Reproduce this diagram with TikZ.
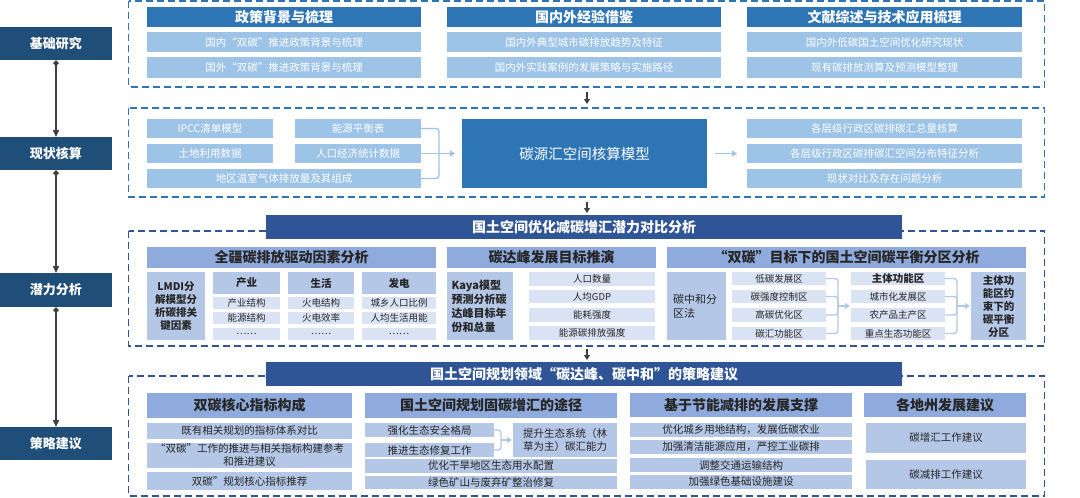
\documentclass[tikz,border=0pt]{standalone}
\usepackage{fontspec}
\setmainfont{Noto Sans CJK SC}
\newfontfamily\fwfont[CharacterWidth=Full]{Noto Sans CJK SC}
\newcommand{\qL}{{\fwfont “}}
\newcommand{\qR}{{\fwfont ”}}
\usetikzlibrary{arrows.meta}
\definecolor{navy}{HTML}{1F4E79}
\definecolor{blueA}{HTML}{2E75B6}
\definecolor{blueL}{HTML}{9DC3E6}
\definecolor{blueD}{HTML}{2F5597}
\definecolor{blueH}{HTML}{8FAADC}
\definecolor{blueM}{HTML}{B4C7E7}
\definecolor{blueP}{HTML}{DAE3F3}
\definecolor{txt}{HTML}{262626}
\definecolor{arr}{HTML}{404040}
\newcommand{\bx}[7]{\node[#6, minimum width={(#4-#2)*1pt}, minimum height={(#5-#3)*1pt}] (#1) at ({(#2+#4)/2},{(#3+#5)/2}) {#7};}
\tikzset{
 base/.style={inner sep=0pt, outer sep=0pt, align=center},
 lab/.style={base, fill=navy, text=white, font=\fontsize{13}{15}\selectfont\bfseries},
 hA/.style={base, fill=blueA, text=white, font=\fontsize{14}{16}\selectfont\bfseries},
 rA/.style={base, fill=blueL, text=white, font=\fontsize{10.5}{12}\selectfont},
 cen/.style={base, fill=blueA, text=white, font=\fontsize{14.5}{16}\selectfont},
 band/.style={base, fill=blueD, text=white, font=\fontsize{14}{16}\selectfont\bfseries},
 hB/.style={base, fill=blueH, text=txt, font=\fontsize{14}{16}\selectfont\bfseries},
 mB/.style={base, fill=blueM, text=txt, font=\fontsize{10.5}{13}\selectfont},
 mBb/.style={base, fill=blueM, text=txt, font=\fontsize{10.5}{13}\selectfont\bfseries},
 pC/.style={base, fill=blueP, text=txt, font=\fontsize{9.5}{11}\selectfont},
 pCb/.style={base, fill=blueP, text=txt, font=\fontsize{10.5}{12}\selectfont\bfseries},
 dashA/.style={draw=blueA, line width=1.4pt, dash pattern=on 7pt off 4pt},
 dashB/.style={draw=blueD, line width=1.4pt, dash pattern=on 7pt off 4pt},
 colarr/.style={draw=arr, line width=2pt, {Diamond[length=6pt,width=6pt]}-{Triangle[length=7pt,width=6pt]}},
 secarr/.style={draw=arr, line width=1.5pt, -{Triangle[length=5pt,width=6pt]}},
 brkA/.style={draw=blueL, line width=1.3pt, rounded corners=3pt},
 brkAarr/.style={draw=blueL, line width=1.3pt, -{Triangle[length=5pt,width=6pt]}},
 brkB/.style={draw=blueM, line width=1.3pt, rounded corners=3pt},
 brkBarr/.style={draw=blueM, line width=1.3pt, -{Triangle[length=5pt,width=6pt]}},
}
\begin{document}
\begin{tikzpicture}[x=1pt,y=-1pt]
\useasboundingbox (0,0) rectangle (1080,498);
% ---------- left column
\bx{L1}{0}{27}{112}{60}{lab}{基础研究}
\bx{L2}{0}{137}{112}{170}{lab}{现状核算}
\bx{L3}{0}{273}{112}{307}{lab}{潜力分析}
\bx{L4}{0}{427}{112}{460}{lab}{策略建议}
\draw[colarr] (L1.south) -- (L2.north);
\draw[colarr] (L2.south) -- (L3.north);
\draw[colarr] (L3.south) -- (L4.north);
% ---------- section 1
\draw[dashA] (128.5,1) rectangle (1044.5,87);
\bx{h11}{147}{7}{421}{27}{hA}{政策背景与梳理}
\bx{h12}{447}{7}{721}{27}{hA}{国内外经验借鉴}
\bx{h13}{747}{7}{1022}{27}{hA}{文献综述与技术应用梳理}
\bx{r111}{147}{32}{421}{52}{rA}{国内\qL 双碳\qR 推进政策背景与梳理}
\bx{r112}{147}{57}{421}{78}{rA}{国外\qL 双碳\qR 推进政策背景与梳理}
\bx{r121}{447}{32}{721}{52}{rA}{国内外典型城市碳排放趋势及特征}
\bx{r122}{447}{57}{721}{78}{rA}{国内外实践案例的发展策略与实施路径}
\bx{r131}{747}{32}{1022}{52}{rA}{国内外低碳国土空间优化研究现状}
\bx{r132}{747}{57}{1022}{78}{rA}{现有碳排放测算及预测模型整理}
\coordinate (a1s) at (587,92);
\coordinate (a1e) at (587,104);
\draw[secarr] (a1s) -- (a1e);
% ---------- section 2
\draw[dashA] (128.5,108) rectangle (1044.5,197);
\bx{d1}{147}{119}{273}{138}{rA}{IPCC清单模型}
\bx{d2}{295}{119}{421}{138}{rA}{能源平衡表}
\bx{d3}{147}{144}{273}{163}{rA}{土地利用数据}
\bx{d4}{295}{144}{421}{163}{rA}{人口经济统计数据}
\bx{d5}{147}{169}{421}{188}{rA}{地区温室气体排放量及其组成}
\bx{cm}{462}{119}{707}{188}{cen}{碳源汇空间核算模型}
\bx{o1}{747}{119}{1022}{138}{rA}{各层级行政区碳排碳汇总量核算}
\bx{o2}{747}{144}{1022}{163}{rA}{各层级行政区碳排碳汇空间分布特征分析}
\bx{o3}{747}{169}{1022}{188}{rA}{现状对比及存在问题分析}
\coordinate (j2) at (439,153.5);
\coordinate (j2e) at (455,153.5);
\draw[brkA] (d2.east) -| (j2);
\draw[brkA] (d5.east) -| (j2);
\draw[brkA] (d4.east) -- (j2);
\draw[brkAarr] (j2) -- (j2e);
\coordinate (c2s) at (715,153.5);
\coordinate (c2e) at (737,153.5);
\draw[brkAarr] (c2s) -- (c2e);
\coordinate (a2s) at (587,202);
\coordinate (a2e) at (587,213);
\draw[secarr] (a2s) -- (a2e);
% ---------- section 3
\draw[dashB] (128.5,231) rectangle (1044.5,346);
\bx{b3}{266}{215}{902}{239}{band}{国土空间优化减碳增汇潜力对比分析}
\bx{h31}{147}{247}{436}{268}{hB}{全疆碳排放驱动因素分析}
\bx{h32}{447}{247}{656}{268}{hB}{碳达峰发展目标推演}
\bx{h33}{667}{247}{1026}{268}{hB}{\qL 双碳\qR 目标下的国土空间碳平衡分区分析}
\bx{lmdi}{147}{272}{205}{340}{mBb}{LMDI分\\解模型分\\析碳排关\\键因素}
\bx{p0}{213}{272}{280}{294}{mBb}{产业}
\bx{p1}{213}{297}{280}{309}{pC}{产业结构}
\bx{p2}{213}{312}{280}{324}{pC}{能源结构}
\bx{p3}{213}{328}{280}{340}{pC}{……}
\bx{s0}{288}{272}{354}{294}{mBb}{生活}
\bx{s1}{288}{297}{354}{309}{pC}{火电结构}
\bx{s2}{288}{312}{354}{324}{pC}{火电效率}
\bx{s3}{288}{328}{354}{340}{pC}{……}
\bx{f0}{362}{272}{436}{294}{mBb}{发电}
\bx{f1}{362}{297}{436}{309}{pC}{城乡人口比例}
\bx{f2}{362}{312}{436}{324}{pC}{人均生活用能}
\bx{f3}{362}{328}{436}{340}{pC}{……}
\node[base, fill=blueM, text=txt, font=\fontsize{11}{14}\selectfont\bfseries, align=left, minimum width=66pt, minimum height=68pt, text width=57pt] (kaya) at (480,306) {Kaya模型\\预测分析碳\\达峰目标年\\份和总量};
\bx{k1}{529}{272}{655}{286}{pC}{人口数量}
\bx{k2}{529}{290}{655}{303}{pC}{人均GDP}
\bx{k3}{529}{308}{655}{322}{pC}{能耗强度}
\bx{k4}{529}{326}{655}{340}{pC}{能源碳排放强度}
\node[base, fill=blueM, text=txt, font=\fontsize{11}{14}\selectfont, align=left, minimum width=59pt, minimum height=68pt, text width=47pt] (tz) at (696.5,306) {碳中和分\\区法};
\bx{z1}{732}{272}{826}{285}{pC}{低碳发展区}
\bx{z2}{732}{290}{826}{303}{pC}{碳强度控制区}
\bx{z3}{732}{308}{826}{322}{pC}{高碳优化区}
\bx{z4}{732}{327}{826}{340}{pC}{碳汇功能区}
\bx{m1}{851}{272}{945}{285}{pCb}{主体功能区}
\bx{m2}{851}{290}{945}{303}{pC}{城市化发展区}
\bx{m3}{851}{308}{945}{322}{pC}{农产品主产区}
\bx{m4}{851}{327}{945}{340}{pC}{重点生态功能区}
\bx{fin}{971}{272}{1026}{340}{mBb}{主体功\\能区约\\束下的\\碳平衡\\分区}
\coordinate (j3) at (838,306);
\coordinate (j3e) at (850,306);
\draw[brkB] (z1.east) -| (j3);
\draw[brkB] (z2.east) -| (j3);
\draw[brkB] (z3.east) -| (j3);
\draw[brkB] (z4.east) -| (j3);
\draw[brkBarr] (j3) -- (j3e);
\coordinate (j4) at (957,306);
\coordinate (j4e) at (970,306);
\draw[brkB] (m1.east) -| (j4);
\draw[brkB] (m2.east) -| (j4);
\draw[brkB] (m3.east) -| (j4);
\draw[brkB] (m4.east) -| (j4);
\draw[brkBarr] (j4) -- (j4e);
\coordinate (a3s) at (587,349);
\coordinate (a3e) at (587,360);
\draw[secarr] (a3s) -- (a3e);
% ---------- section 4
\draw[dashB] (128.5,376) rectangle (1044.5,496);
\bx{b4}{266}{362}{902}{386}{band}{国土空间规划领域\qL 碳达峰、碳中和\qR 的策略建议}
\bx{h41}{147}{393}{352}{418}{hB}{双碳核心指标构成}
\bx{q1}{147}{423}{352}{439}{mB}{既有相关规划的指标体系对比}
\bx{q2}{147}{443}{352}{468}{mB}{\qL 双碳\qR 工作的推进与相关指标构建参考\\和推进建议}
\bx{q3}{147}{472}{352}{490}{mB}{双碳\qR 规划核心指标推荐}
\bx{h42}{365}{393}{617}{418}{hB}{国土空间规划固碳增汇的途径}
\bx{w1}{365}{423}{494}{437}{mB}{强化生态安全格局}
\bx{w2}{365}{443}{494}{457}{mB}{推进生态修复工作}
\bx{w3}{513}{423}{617}{457}{mB}{提升生态系统（林\\草为主）碳汇能力}
\bx{w4}{365}{459}{617}{473}{mB}{优化干旱地区生态用水配置}
\bx{w5}{365}{476}{617}{489}{mB}{绿色矿山与废弃矿整治修复}
\coordinate (j5) at (501,440);
\coordinate (j5e) at (512,440);
\draw[brkB] (w1.east) -| (j5);
\draw[brkB] (w2.east) -| (j5);
\draw[brkBarr] (j5) -- (j5e);
\bx{h43}{630}{393}{852}{417}{hB}{基于节能减排的发展支撑}
\bx{e1}{630}{423}{852}{437}{mB}{优化城乡用地结构，发展低碳农业}
\bx{e2}{630}{440}{852}{454}{mB}{加强清洁能源应用，严控工业碳排}
\bx{e3}{630}{458}{852}{472}{mB}{调整交通运输结构}
\bx{e4}{630}{475}{852}{489}{mB}{加强绿色基础设施建设}
\bx{h44}{864}{393}{1026}{417}{hB}{各地州发展建议}
\bx{g1}{866}{423}{1026}{453}{mB}{碳增汇工作建议}
\bx{g2}{866}{460}{1026}{489}{mB}{碳减排工作建议}
\end{tikzpicture}
\end{document}
